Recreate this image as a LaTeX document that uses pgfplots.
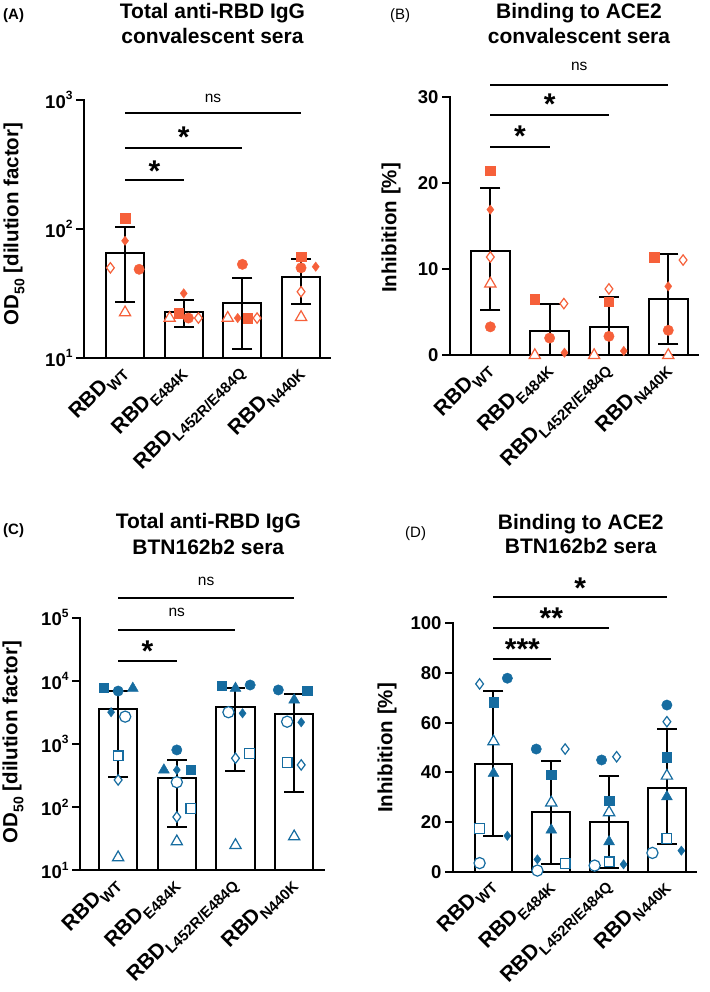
\documentclass[border=0pt]{standalone}
\usepackage{fontspec}
\setmainfont{Liberation Sans}
\usepackage{pgfplots}
\pgfplotsset{compat=1.18}
\definecolor{org}{RGB}{246,96,58}
\definecolor{blu}{RGB}{22,108,160}
\newcommand{\sub}[1]{\raisebox{-0.3em}{\fontsize{14}{14}\selectfont #1}}
\newcommand{\xsub}[1]{\raisebox{-0.3em}{\fontsize{15}{15}\selectfont #1}}
\newcommand{\sep}[1]{10\raisebox{0.45em}{\fontsize{12}{12}\selectfont #1}}
\pgfplotsset{
 prism/.style={scale only axis, clip=false,
  axis x line*=bottom, axis y line*=left,
  axis line style={line width=2pt, line cap=rect},
  tick align=outside, major tick length=8pt,
  tick style={line width=2pt, black},
  xtick style={draw=none},
  xtick={0,1,2,3},
  xticklabels={RBD\xsub{WT},RBD\xsub{E484K},RBD\xsub{L452R/E484Q},RBD\xsub{N440K}},
  xticklabel style={rotate=45, anchor=east, font=\fontsize{21}{21}\selectfont\bfseries, inner sep=3pt},
  yticklabel style={font=\fontsize{18.5}{18.5}\selectfont\bfseries},
 },
 bars/.style={ybar, bar width=0.65, fill=white, draw=black, line width=2pt},
 err/.style={black, line width=2pt, mark=-, mark size=10pt, mark options={line width=2pt}},
 fsq/.style={only marks, mark=square*, mark size=4.7pt, mark options={fill=#1, draw=#1, line width=0.4pt}},
 fci/.style={only marks, mark=*, mark size=5.2pt, mark options={fill=#1, draw=#1, line width=0.4pt}},
 ftr/.style={only marks, mark=triangle*, mark size=6.3pt, mark options={fill=#1, draw=#1, line width=0.4pt}},
 fdi/.style={only marks, mark=diamond*, mark size=4.7pt, mark options={fill=#1, draw=#1, line width=0.4pt}},
 osq/.style={only marks, mark=square*, mark size=4.9pt, mark options={fill=white, draw=#1, line width=1.2pt}},
 oci/.style={only marks, mark=*, mark size=5.6pt, mark options={fill=white, draw=#1, line width=1.2pt}},
 otr/.style={only marks, mark=triangle*, mark size=6.5pt, mark options={fill=white, draw=#1, line width=1.2pt}},
 odi/.style={only marks, mark=diamond*, mark size=5.2pt, mark options={fill=white, draw=#1, line width=1.2pt}},
}
\tikzset{
 sig/.style={line width=2pt},
 star/.style={font=\fontsize{30}{30}\selectfont\bfseries, anchor=base, yshift=-16.5pt, inner sep=0pt},
 nsn/.style={font=\fontsize{15.5}{15.5}\selectfont, anchor=center, inner sep=0pt},
 ttl/.style={font=\fontsize{21}{21}\selectfont\bfseries, anchor=base},
 ylab/.style={font=\fontsize{20.5}{20.5}\selectfont\bfseries, rotate=90, anchor=center},
}
\begin{document}
\begin{tikzpicture}
\useasboundingbox (0,0) rectangle (709pt,992pt);
% titles
\node[ttl] at (212.5pt,973.5pt) {Total anti-RBD IgG};
\node[ttl] at (212.5pt,948.5pt) {convalescent sera};
\node[ttl] at (579pt,973.5pt) {Binding to ACE2};
\node[ttl] at (579pt,948.5pt) {convalescent sera};
\node[ttl] at (208.3pt,463.7pt) {Total anti-RBD IgG};
\node[ttl] at (208.3pt,437pt) {BTN162b2 sera};
\node[ttl] at (580.8pt,462.7pt) {Binding to ACE2};
\node[ttl] at (580.8pt,438pt) {BTN162b2 sera};
\node[font=\fontsize{15}{15}\selectfont\bfseries, anchor=base west, inner sep=0pt] at (3pt,972pt) {(A)};
\node[font=\fontsize{15}{15}\selectfont, anchor=base west, inner sep=0pt] at (390pt,972pt) {(B)};
\node[font=\fontsize{15}{15}\selectfont\bfseries, anchor=base west, inner sep=0pt] at (3pt,457pt) {(C)};
\node[font=\fontsize{15}{15}\selectfont, anchor=base west, inner sep=0pt] at (405pt,454pt) {(D)};
\node[ylab] at (14pt,768pt) {OD\sub{50} [dilution factor]};
\node[ylab] at (391pt,764pt) {Inhibition [\%]};
\node[ylab] at (13pt,250pt) {OD\sub{50} [dilution factor]};
\node[ylab] at (387pt,244pt) {Inhibition [\%]};

% ---------------- Panel A
\begin{axis}[prism, at={(84pt,634pt)}, anchor=south west, width=246.4pt, height=258pt,
 xmin=-0.70, xmax=3.5, ymode=log, ymin=10, ymax=1000, log origin y=infty,
 ytick={10,100,1000}, yticklabels={\sep{1},\sep{2},\sep{3}}, yminorticks=false]
\addplot[bars] coordinates {(0,64.8) (1,22.6) (2,26.5) (3,42.2)};
\addplot[err] coordinates {(0,27.3) (0,103)};
\addplot[err] coordinates {(1,17.5) (1,28.2)};
\addplot[err] coordinates {(2,11.8) (2,41.5)};
\addplot[err] coordinates {(3,26.4) (3,58.5)};
\addplot[fsq=org] coordinates {(0,121) (0.91,22.3) (2.09,20.4) (3,61)};
\addplot[fci=org] coordinates {(0.24,48.7) (1.08,20.4) (2,53.2) (3,50)};
\addplot[fdi=org] coordinates {(0,81) (1,31.7) (1.92,20.4) (3.25,51)};
\addplot[odi=org] coordinates {(-0.25,50) (1.25,20.4) (2.25,20.4) (3,32.6)};
\addplot[otr=org] coordinates {(0,22.5) (0.76,20.4) (1.75,20.4) (3,20.7)};
\draw[sig] (axis cs:0,240) -- (axis cs:1,240);
\draw[sig] (axis cs:0,427) -- (axis cs:2,427);
\draw[sig] (axis cs:0,789) -- (axis cs:3,789);
\node[star] at (axis cs:0.5,313) {*};
\node[star] at (axis cs:1,578) {*};
\node[nsn] at (axis cs:1.5,1025) {ns};
\end{axis}

% ---------------- Panel B
\begin{axis}[prism, at={(450pt,636.7pt)}, anchor=south west, width=247.9pt, height=258.6pt,
 xmin=-0.68, xmax=3.5, ymin=0, ymax=30,
 ytick={0,10,20,30}, yticklabels={0,10,20,30}]
\addplot[bars] coordinates {(0,12.1) (1,2.85) (2,3.25) (3,6.5)};
\addplot[err] coordinates {(0,5.25) (0,19.4)};
\addplot[err] coordinates {(1,0) (1,5.95)};
\addplot[err] coordinates {(2,0) (2,6.8)};
\addplot[err] coordinates {(3,1.3) (3,11.8)};
\addplot[fsq=org] coordinates {(0,21.4) (0.75,6.5) (2,6.2) (2.76,11.4)};
\addplot[fci=org] coordinates {(0,3.3) (1,2.0) (2,2.2) (3,2.9)};
\addplot[fdi=org] coordinates {(0,16.9) (1.25,0.3) (2.25,0.5) (3,8.0)};
\addplot[odi=org] coordinates {(0,11.4) (1.24,6.0) (2,7.7) (3.25,11.05)};
\addplot[otr=org] coordinates {(0,8.3) (0.75,0) (1.75,0) (3,0)};
\draw[sig] (axis cs:0,24.2) -- (axis cs:1,24.2);
\draw[sig] (axis cs:0,27.9) -- (axis cs:2,27.9);
\draw[sig] (axis cs:0,31.4) -- (axis cs:3,31.4);
\node[star] at (axis cs:0.5,26.1) {*};
\node[star] at (axis cs:1,29.8) {*};
\node[nsn] at (axis cs:1.5,33.5) {ns};
\end{axis}

% ---------------- Panel C
\begin{axis}[prism, at={(80pt,121.6pt)}, anchor=south west, width=243.5pt, height=252.7pt,
 xmin=-0.65, xmax=3.5, ymode=log, ymin=10, ymax=100000, log origin y=infty,
 ytick={10,100,1000,10000,100000}, yticklabels={\sep{1},\sep{2},\sep{3},\sep{4},\sep{5}}, yminorticks=false]
\addplot[bars] coordinates {(0,3548) (1,288) (2,3908) (3,2993)};
\addplot[err] coordinates {(0,298) (0,7000)};
\addplot[err] coordinates {(1,48) (1,560)};
\addplot[err] coordinates {(2,375) (2,7800)};
\addplot[err] coordinates {(3,173) (3,6124)};
\addplot[fsq=blu] coordinates {(-0.25,7800) (1.24,389) (1.76,8300) (3.22,6920)};
\addplot[fci=blu] coordinates {(0,6900) (1,807) (2.25,8600) (2.73,7180)};
\addplot[ftr=blu] coordinates {(0.25,7640) (0.78,389) (2,7640) (3,4990)};
\addplot[fdi=blu] coordinates {(-0.12,3190) (1,389) (2.12,3070) (3.12,2210)};
\addplot[oci=blu] coordinates {(0.12,2716) (1,249) (1.88,3190) (2.88,2260)};
\addplot[osq=blu] coordinates {(0,648) (1.24,96) (2.24,714) (2.88,515)};
\addplot[odi=blu] coordinates {(0,270) (1,70) (2,596) (3.12,467)};
\addplot[otr=blu] coordinates {(0,16) (1,28.6) (2,25) (3,34.3)};
\draw[sig] (axis cs:0,20900) -- (axis cs:1,20900);
\draw[sig] (axis cs:0,63800) -- (axis cs:2,63800);
\draw[sig] (axis cs:0,207000) -- (axis cs:3,207000);
\node[star] at (axis cs:0.5,37000) {*};
\node[nsn] at (axis cs:1,120000) {ns};
\node[nsn] at (axis cs:1.5,370000) {ns};
\end{axis}

% ---------------- Panel D
\begin{axis}[prism, at={(453pt,120.2pt)}, anchor=south west, width=242.8pt, height=248.5pt,
 xmin=-0.70, xmax=3.5, ymin=0, ymax=100,
 ytick={0,20,40,60,80,100}, yticklabels={0,20,40,60,80,100}]
\addplot[bars] coordinates {(0,43.3) (1,23.9) (2,20.2) (3,33.6)};
\addplot[err] coordinates {(0,14.5) (0,72.9)};
\addplot[err] coordinates {(1,3.3) (1,44.6)};
\addplot[err] coordinates {(2,1.7) (2,38.7)};
\addplot[err] coordinates {(3,11.1) (3,57.3)};
\addplot[fsq=blu] coordinates {(0,68.2) (1,39) (2,28.5) (3,46.1)};
\addplot[fci=blu] coordinates {(0.24,77.9) (0.74,49.4) (1.87,45) (3,67.1)};
\addplot[ftr=blu] coordinates {(0,39.6) (1,16.8) (2,12.1) (3,30.2)};
\addplot[fdi=blu] coordinates {(0.24,14.5) (0.76,5) (2.25,3) (3.25,8.5)};
\addplot[oci=blu] coordinates {(-0.24,3.5) (0.76,0.5) (1.75,2.5) (2.75,7.6)};
\addplot[osq=blu] coordinates {(-0.24,17.5) (1.24,3.3) (2,4) (3,13.5)};
\addplot[odi=blu] coordinates {(-0.24,75.6) (1.24,49.4) (2.13,46.3) (3,60.4)};
\addplot[otr=blu] coordinates {(0,52.4) (1,27.8) (2,23.9) (3,38.6)};
\draw[sig] (axis cs:0,85.6) -- (axis cs:1,85.6);
\draw[sig] (axis cs:0,98) -- (axis cs:2,98);
\draw[sig] (axis cs:0,110.7) -- (axis cs:3,110.7);
\node[star] at (axis cs:0.5,92) {***};
\node[star] at (axis cs:1,104.7) {**};
\node[star] at (axis cs:1.5,116.7) {*};
\end{axis}
\end{tikzpicture}
\end{document}
